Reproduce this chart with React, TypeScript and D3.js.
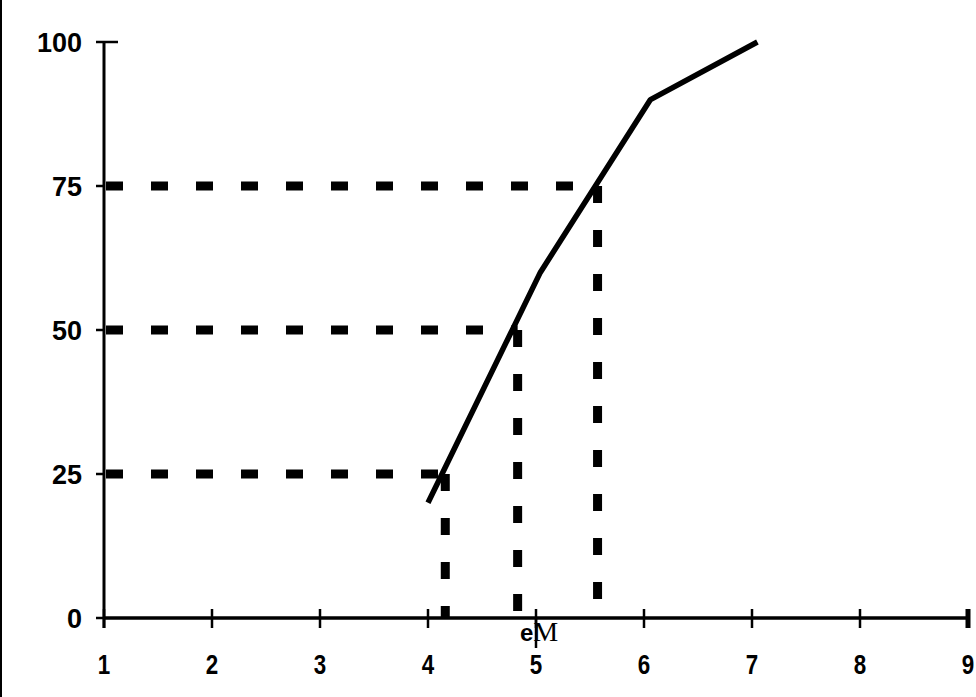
import React from "react";
import * as d3 from "d3";

const xTicks = [1, 2, 3, 4, 5, 6, 7, 8, 9];
const yTicks = [0, 25, 50, 75, 100];
const curveX = [4, 5.04, 6.06, 7.05];
const curveY = [20, 60, 90, 100];
const quartileLevels = [25, 50, 75];
const quartileX = [4.16, 4.83, 5.57];
const medianLabel = ["e", "M"];

const W = 976;
const H = 697;

export default function App() {
  const x = d3.scaleLinear().domain([1, 9]).range([104, 968]);
  const y = d3.scaleLinear().domain([0, 100]).range([618, 42]);
  const pts: [number, number][] = curveX.map((v, i) => [v, curveY[i]]);
  const line = d3
    .line<[number, number]>()
    .x((d) => x(d[0]))
    .y((d) => y(d[1]));
  const font = "'Liberation Sans', Arial, sans-serif";

  return (
    <svg
      width={W}
      height={H}
      style={{ position: "fixed", left: 0, top: 0, background: "#fff" }}
    >
      <rect x={0} y={0} width={W} height={H} fill="#fff" />
      <line x1={1} y1={0} x2={1} y2={H} stroke="#000" strokeWidth={2} />

      {/* dashed quartile guides */}
      {quartileLevels.map((lv, i) => (
        <g key={lv}>
          <line
            x1={x(1) + 2}
            x2={x(quartileX[i])}
            y1={y(lv)}
            y2={y(lv)}
            stroke="#000"
            strokeWidth={9}
            strokeDasharray="17,28"
          />
          <line
            x1={x(quartileX[i])}
            x2={x(quartileX[i])}
            y1={y(lv)}
            y2={y(0)}
            stroke="#000"
            strokeWidth={9}
            strokeDasharray="17,27"
          />
        </g>
      ))}

      {/* y axis */}
      <line x1={x(1)} x2={x(1)} y1={y(100)} y2={y(0) + 10} stroke="#000" strokeWidth={3} />
      {yTicks.map((t) => (
        <g key={t}>
          <line
            x1={x(1) - 8}
            x2={t === 100 ? x(1) + 14 : x(1)}
            y1={y(t)}
            y2={y(t)}
            stroke="#000"
            strokeWidth={2.5}
          />
          <text
            x={82}
            y={y(t) + 9.5}
            textAnchor="end"
            fontFamily={font}
            fontWeight="bold"
            fontSize={27}
            fill="#000"
          >
            {t}
          </text>
        </g>
      ))}

      {/* x axis */}
      <line x1={x(1)} x2={x(9)} y1={y(0)} y2={y(0)} stroke="#000" strokeWidth={3.5} />
      {xTicks.map((t) => (
        <g key={t}>
          <line
            x1={x(t)}
            x2={x(t)}
            y1={y(0) - 9}
            y2={y(0) + 10}
            stroke="#000"
            strokeWidth={t === 9 ? 5 : 2.5}
          />
          <text
            x={x(t)}
            y={674}
            textAnchor="middle"
            fontFamily={font}
            fontWeight="bold"
            fontSize={28}
            fill="#000"
            transform={`translate(${x(t)},0) scale(0.8,1) translate(${-x(t)},0)`}
          >
            {t}
          </text>
        </g>
      ))}

      {/* cumulative curve */}
      <path d={line(pts) || ""} fill="none" stroke="#000" strokeWidth={5.5} strokeLinejoin="round" />

      {/* median label */}
      <line x1={x(5)} x2={x(5)} y1={y(0)} y2={648} stroke="#000" strokeWidth={2.5} />
      <text x={520} y={641} fill="#000">
        <tspan fontFamily={font} fontWeight="bold" fontSize={24}>
          {medianLabel[0]}
        </tspan>
        <tspan fontFamily="'Liberation Serif', 'Times New Roman', serif" fontSize={28}>
          {medianLabel[1]}
        </tspan>
      </text>
    </svg>
  );
}
